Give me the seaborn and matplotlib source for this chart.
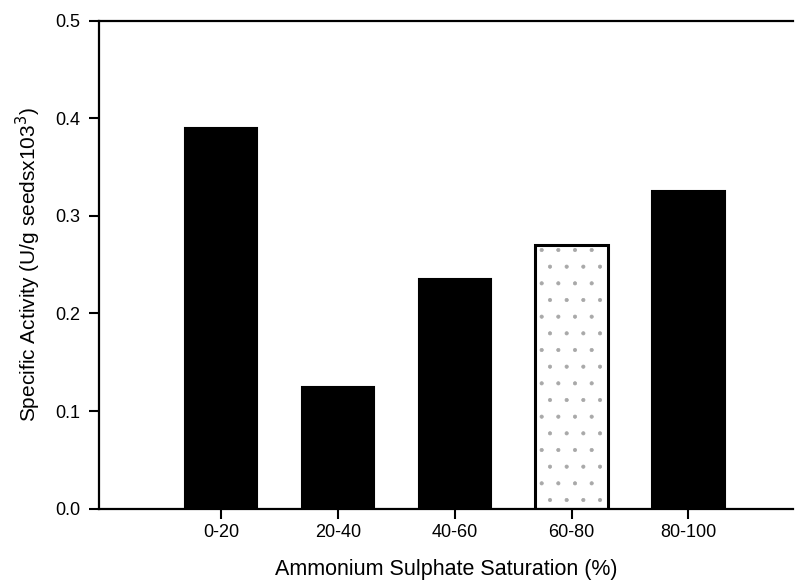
import matplotlib
matplotlib.use("Agg")
import matplotlib.pyplot as plt
import seaborn as sns
import pandas as pd

# Specific activity of each ammonium sulphate cut
fractions = ["0-20", "20-40", "40-60", "60-80", "80-100"]
activity = [0.39, 0.125, 0.235, 0.27, 0.325]
bar_colors = ["black", "black", "black", "white", "black"]

sns.set_theme(style="white")
plt.rcParams["font.family"] = ["Liberation Sans", "DejaVu Sans"]
plt.rcParams["hatch.linewidth"] = 0.5

df = pd.DataFrame({"fraction": fractions, "activity": activity})

fig = plt.figure(figsize=(7.95, 5.88), dpi=100)
ax = fig.add_axes([0.124, 0.135, 0.874, 0.83])

sns.barplot(data=df, x="fraction", y="activity", hue="fraction",
            palette=bar_colors, legend=False, width=0.62,
            edgecolor="black", linewidth=1.5, saturation=1, ax=ax)

# The 60-80 fraction is drawn open with a light stipple
peak = ax.patches[3]
peak.set_linewidth(2.2)
ax.bar(peak.get_x() + peak.get_width() / 2, activity[3] * 0.97,
       width=peak.get_width() * 0.9, bottom=0.005, color="none",
       edgecolor="#a8a8a8", hatch=".", linewidth=0, zorder=peak.get_zorder() + 0.1)

ax.set_xlim(-1.05, 4.9)
ax.set_ylim(0, 0.5)
ax.set_yticks([0.0, 0.1, 0.2, 0.3, 0.4, 0.5])
ax.set_yticklabels(["0.0", "0.1", "0.2", "0.3", "0.4", "0.5"])

for side in ["left", "bottom", "top"]:
    ax.spines[side].set_visible(True)
    ax.spines[side].set_color("black")
    ax.spines[side].set_linewidth(1.6)
ax.spines["right"].set_visible(False)

ax.tick_params(axis="both", direction="out", length=7, width=1.5,
               colors="black", labelsize=13, pad=6)
ax.tick_params(axis="x", pad=4)
ax.tick_params(left=True, bottom=True)

ax.set_xlabel("Ammonium Sulphate Saturation (%)", fontsize=15.5, labelpad=13, color="black")
ax.set_ylabel("Specific Activity (U/g seedsx103$^3$)", fontsize=15, labelpad=9, color="black")

fig.savefig("out.png", dpi=100, facecolor="white")
